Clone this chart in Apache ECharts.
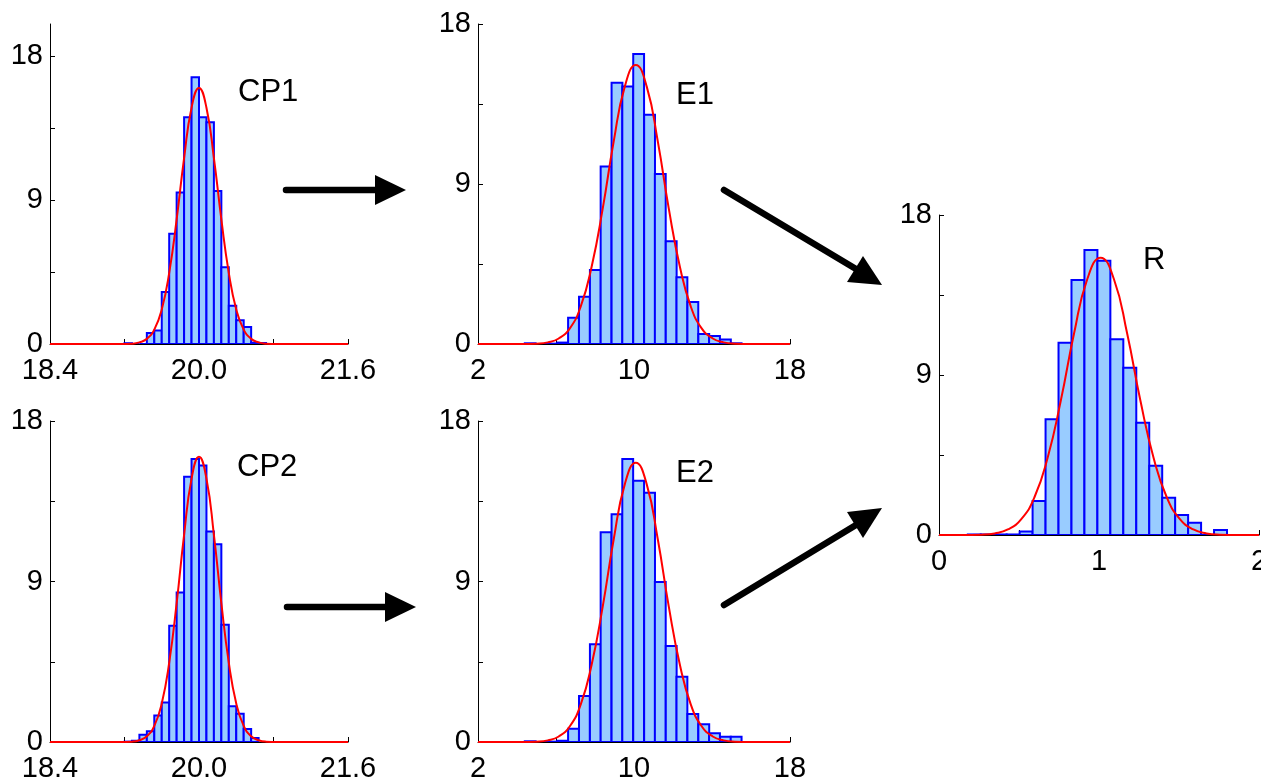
<!DOCTYPE html>
<html><head><meta charset="utf-8">
<script src="https://cdn.jsdelivr.net/npm/echarts@6/dist/echarts.min.js"></script>
<style>html,body{margin:0;padding:0;background:#fff}#c{width:1261px;height:782px}</style>
</head><body><div id="c"></div>
<script>
// ---------- data (percent of samples per bin) ----------
const cpBinWidth = 0.08;
const cp1Edges = [19.20, 19.28, 19.36, 19.44, 19.52, 19.60, 19.68, 19.76, 19.84, 19.92, 20.00, 20.08, 20.16, 20.24, 20.32, 20.40, 20.48, 20.56, 20.64];
const cp1Pct   = [0.05, 0, 0, 0.69, 0.85, 3.25, 6.89, 9.47, 14.17, 16.67, 14.17, 13.86, 9.57, 4.79, 2.39, 1.48, 1.06, 0.08, 0.06];
const cp2Edges = [19.20, 19.28, 19.36, 19.44, 19.52, 19.60, 19.68, 19.76, 19.84, 19.92, 20.00, 20.08, 20.16, 20.24, 20.32, 20.40, 20.48, 20.56];
const cp2Pct   = [0.02, 0.07, 0.41, 0.60, 1.49, 2.22, 6.52, 8.38, 14.88, 15.87, 15.50, 11.80, 11.09, 6.57, 2.00, 1.59, 0.73, 0.22];
const cpCurveX = [18.40, 19.16, 19.28, 19.36, 19.44, 19.52, 19.60, 19.68, 19.76, 19.84, 19.92, 20.00, 20.08, 20.16, 20.24, 20.32, 20.40, 20.48, 20.56, 20.64, 20.72, 20.84, 21.60];
const cp1CurveY = [0, 0, 0.02, 0.10, 0.32, 0.90, 2.16, 4.45, 7.79, 11.62, 14.77, 16.0, 14.77, 11.62, 7.79, 4.45, 2.16, 0.90, 0.32, 0.10, 0.02, 0, 0];
const cp2CurveY = [0, 0, 0.02, 0.10, 0.32, 0.90, 2.16, 4.45, 7.79, 11.62, 14.77, 16.0, 14.77, 11.62, 7.79, 4.45, 2.16, 0.90, 0.32, 0.10, 0.02, 0, 0];

const eBinWidth = 0.556;
const eEdges = [4.40, 4.96, 5.51, 6.07, 6.62, 7.18, 7.74, 8.29, 8.85, 9.40, 9.96, 10.52, 11.07, 11.63, 12.18, 12.74, 13.30, 13.85, 14.41, 14.96];
const e1Pct  = [0.04, 0, 0.02, 0.08, 1.48, 2.66, 4.16, 9.98, 14.70, 14.48, 16.31, 12.90, 9.56, 5.78, 3.75, 2.36, 0.56, 0.45, 0.26, 0.04];
const e2Pct  = [0.04, 0, 0.02, 0.07, 0.75, 2.58, 5.48, 11.76, 12.77, 15.87, 14.65, 13.98, 8.97, 5.38, 3.66, 1.57, 0.99, 0.49, 0.30, 0.30];
const eCurveX  = [2.00, 4.17, 5.01, 5.58, 6.14, 6.71, 7.27, 7.83, 8.40, 8.96, 9.53, 10.09, 10.65, 11.22, 11.78, 12.35, 12.91, 13.47, 14.04, 14.60, 15.17, 16.01, 18.00];
const e1CurveY = [0, 0, 0.02, 0.09, 0.31, 0.88, 2.12, 4.36, 7.64, 11.40, 14.49, 15.70, 14.49, 11.40, 7.64, 4.36, 2.12, 0.88, 0.31, 0.09, 0.02, 0, 0];
const e2CurveY = [0, 0, 0.02, 0.09, 0.31, 0.88, 2.11, 4.35, 7.62, 11.37, 14.46, 15.66, 14.46, 11.37, 7.62, 4.35, 2.11, 0.88, 0.31, 0.09, 0.02, 0, 0];

const rBinWidth = 0.081;
const rEdges = [0.180, 0.261, 0.342, 0.423, 0.504, 0.585, 0.666, 0.747, 0.828, 0.909, 0.990, 1.071, 1.152, 1.233, 1.314, 1.395, 1.476, 1.557, 1.638, 1.719];
const rPct   = [0.03, 0.03, 0.03, 0.03, 0.19, 1.91, 6.51, 10.82, 14.34, 16.03, 15.43, 11.01, 9.41, 6.32, 3.90, 2.10, 1.13, 0.69, 0, 0.28];
const rCurveX = [0, 0.141, 0.265, 0.348, 0.430, 0.513, 0.596, 0.679, 0.762, 0.844, 0.927, 1.010, 1.093, 1.176, 1.258, 1.341, 1.424, 1.507, 1.590, 1.672, 1.755, 1.879, 2.0];
const rCurveY = [0, 0, 0.02, 0.09, 0.31, 0.88, 2.11, 4.34, 7.59, 11.33, 14.40, 15.60, 14.40, 11.33, 7.59, 4.34, 2.11, 0.88, 0.31, 0.09, 0.02, 0, 0];

// ---------- ticks ----------
const cpXTicks = [18.4, 19.2, 20.0, 20.8, 21.6];
const cpXLabels = [18.4, 20.0, 21.6];
const eXTicks = [2, 6, 10, 14, 18];
const eXLabels = [2, 10, 18];
const rXTicks = [0, 0.5, 1, 1.5, 2];
const rXLabels = [0, 1, 2];
const yTicks = [0, 4.5, 9, 13.5, 18];
const yLabels = [0, 9, 18];
const panelNames = ['CP1', 'E1', 'R', 'CP2', 'E2'];

// ---------- layout ----------
const FONT = '"Liberation Sans", Arial, Helvetica, sans-serif';
const panels = [
  {name: panelNames[0], edges: cp1Edges, pct: cp1Pct, bw: cpBinWidth, cx: cpCurveX, cy: cp1CurveY,
   xmin: 18.4, xmax: 21.6, ymax: 20, xt: cpXTicks, xl: cpXLabels, dec: 1,
   grid: {left: 50, top: 24, width: 298, height: 320}, lab: [238, 92.5]},
  {name: panelNames[1], edges: eEdges, pct: e1Pct, bw: eBinWidth, cx: eCurveX, cy: e1CurveY,
   xmin: 2, xmax: 18, ymax: 18, xt: eXTicks, xl: eXLabels, dec: 0,
   grid: {left: 478, top: 24, width: 312, height: 320}, lab: [676, 95.5]},
  {name: panelNames[2], edges: rEdges, pct: rPct, bw: rBinWidth, cx: rCurveX, cy: rCurveY,
   xmin: 0, xmax: 2, ymax: 18, xt: rXTicks, xl: rXLabels, dec: 0,
   grid: {left: 939, top: 215, width: 320, height: 320}, lab: [1143, 260]},
  {name: panelNames[3], edges: cp2Edges, pct: cp2Pct, bw: cpBinWidth, cx: cpCurveX, cy: cp2CurveY,
   xmin: 18.4, xmax: 21.6, ymax: 18, xt: cpXTicks, xl: cpXLabels, dec: 1,
   grid: {left: 50, top: 421, width: 298, height: 321}, lab: [237, 467.5]},
  {name: panelNames[4], edges: eEdges, pct: e2Pct, bw: eBinWidth, cx: eCurveX, cy: e2CurveY,
   xmin: 2, xmax: 18, ymax: 18, xt: eXTicks, xl: eXLabels, dec: 0,
   grid: {left: 478, top: 421, width: 312, height: 321}, lab: [676, 473.5]}
];

const grid = [], xAxis = [], yAxis = [], series = [], graphic = [];
panels.forEach((p, i) => {
  grid.push(Object.assign({outerBoundsMode: 'none', containLabel: false}, p.grid));
  xAxis.push({
    type: 'value', gridIndex: i, min: p.xmin, max: p.xmax,
    axisLine: {show: true, onZero: false, lineStyle: {color: '#000', width: 1}},
    axisTick: {show: true, inside: true, length: 5, customValues: p.xt, lineStyle: {color: '#000'}},
    axisLabel: {show: true, customValues: p.xl, margin: 12, color: '#000', fontSize: 29, fontFamily: FONT,
                formatter: v => p.dec ? Number(v).toFixed(p.dec) : String(v)},
    splitLine: {show: false}
  });
  yAxis.push({
    type: 'value', gridIndex: i, min: 0, max: p.ymax,
    axisLine: {show: true, lineStyle: {color: '#000', width: 1}},
    axisTick: {show: true, inside: true, length: 5, customValues: yTicks, lineStyle: {color: '#000'}},
    axisLabel: {show: true, customValues: yLabels, margin: 7, color: '#000', fontSize: 29, fontFamily: FONT},
    splitLine: {show: false}
  });
  const bw = p.bw;
  series.push({
    type: 'custom', xAxisIndex: i, yAxisIndex: i, clip: true,
    encode: {x: 0, y: 1},
    data: p.edges.map((e, k) => [e, p.pct[k]]),
    renderItem: function (params, api) {
      const x0 = api.value(0), h = api.value(1);
      const a = api.coord([x0, h]);
      const b = api.coord([x0 + bw, 0]);
      return {type: 'rect', shape: {x: a[0], y: a[1], width: b[0] - a[0], height: b[1] - a[1]},
              style: {fill: '#99ccff', stroke: '#0000ff', lineWidth: 2}};
    },
    z: 2
  });
  series.push({
    type: 'line', xAxisIndex: i, yAxisIndex: i, showSymbol: false, smooth: 0.5,
    data: p.cx.map((x, k) => [x, p.cy[k]]),
    lineStyle: {color: '#ff0000', width: 2}, z: 3, silent: true
  });
  graphic.push({type: 'text', x: p.lab[0], y: p.lab[1],
    style: {text: p.name, fontSize: 31, fontFamily: FONT, fill: '#000', verticalAlign: 'middle', align: 'left'}});
});

// arrows (decoration)
function arrow(x1, y1, x2, y2, tip, c1, c2) {
  graphic.push({type: 'line', shape: {x1: x1, y1: y1, x2: x2, y2: y2},
    style: {stroke: '#000', lineWidth: 6.5, lineCap: 'round'}});
  graphic.push({type: 'polygon', shape: {points: [c1, tip, c2]}, style: {fill: '#000'}});
}
arrow(286, 190, 380, 190, [406, 190], [375, 175], [375, 205]);
arrow(287, 607, 390, 607, [416, 607], [385, 592], [385, 622]);
arrow(724, 190, 856, 269, [882, 285], [847, 282], [863, 256]);
arrow(724, 605, 856, 525, [882, 508], [847, 512], [863, 538]);

const chart = echarts.init(document.getElementById('c'), null, {renderer: 'canvas'});
chart.setOption({animation: false, backgroundColor: '#fff', grid, xAxis, yAxis, series, graphic});
</script></body></html>
